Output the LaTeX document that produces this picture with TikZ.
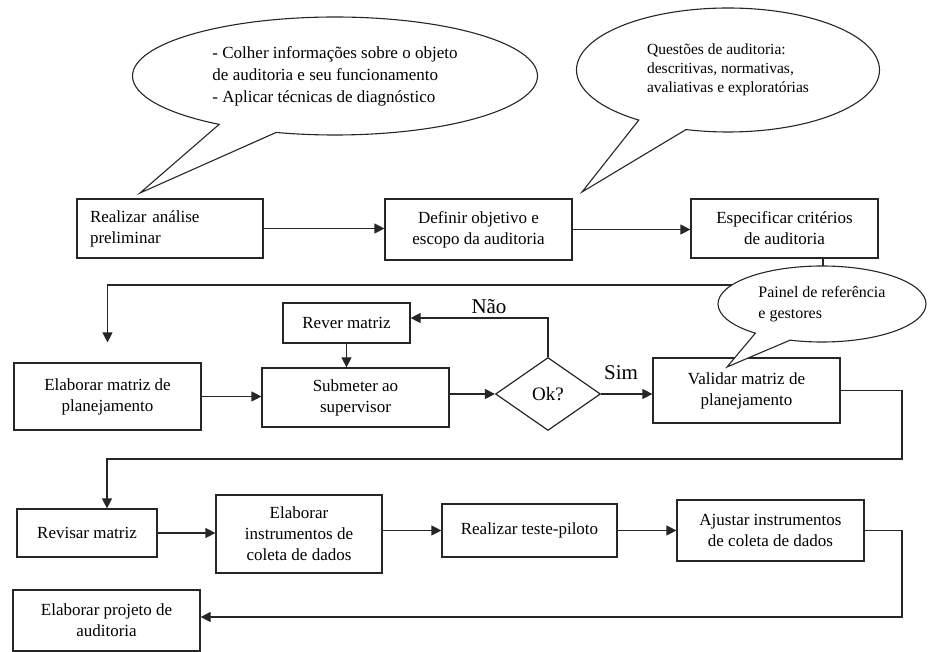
\documentclass[tikz,border=0pt]{standalone}
\usepackage{fontspec}
\setmainfont{Liberation Serif}
\usetikzlibrary{shapes.geometric,shapes.callouts,arrows.meta}
\begin{document}
\begin{tikzpicture}[x=1pt,y=-1pt,
  box/.style={draw=black!85, line width=1.2pt, fill=white, inner sep=0pt, align=center,
    font=\fontsize{17}{21}\selectfont},
  arr/.style={draw=black!85, line width=1.2pt, -{Triangle[length=10pt,width=10pt]}},
  bubble/.style={ellipse callout, draw=black!85, line width=1.1pt, fill=white, inner sep=0pt, align=left},
  lbl/.style={font=\fontsize{21}{24}\selectfont, inner sep=0pt}]
\useasboundingbox (0,0) rectangle (930,652);

% boxes
\node[box, align=left, text width=160pt, inner xsep=13pt, minimum height=59pt] (b1) at (170,228.5) {Realizar análise\\preliminar};
\node[box, minimum width=187pt, minimum height=61pt] (b2) at (478.5,229.5) {Definir objetivo e\\escopo da auditoria};
\node[box, minimum width=187pt, minimum height=59pt] (b3) at (784.5,228.5) {Especificar critérios\\de auditoria};
\node[box, minimum width=187pt, minimum height=67pt] (b4) at (107.5,396.5) {Elaborar matriz de\\planejamento};
\node[box, minimum width=127pt, minimum height=40pt] (b5) at (346.5,323) {Rever matriz};
\node[box, minimum width=187pt, minimum height=59pt] (b6) at (355.5,397.5) {Submeter ao\\supervisor};
\node[diamond, draw=black!85, line width=1.2pt, inner sep=0pt, minimum width=105pt, minimum height=73pt,
  font=\fontsize{19}{22}\selectfont] (ok) at (548,394) {Ok?};
\node[box, minimum width=187pt, minimum height=65pt] (b7) at (746.5,390.5) {Validar matriz de\\planejamento};
\node[box, minimum width=140pt, minimum height=48pt] (b8) at (87,533) {Revisar matriz};
\node[box, minimum width=166pt, minimum height=78pt] (b9) at (299,534) {Elaborar\\instrumentos de\\coleta de dados};
\node[box, minimum width=175pt, minimum height=53pt] (b10) at (529.5,530.5) {Realizar teste-piloto};
\node[box, minimum width=187pt, minimum height=61pt] (b11) at (770.5,530.5) {Ajustar instrumentos\\de coleta de dados};
\node[box, minimum width=187pt, minimum height=61pt] (b12) at (106.5,620.5) {Elaborar projeto de\\auditoria};

% junction coordinates
\coordinate (j1) at (107.5,285);
\coordinate (j2) at (902,459);
\coordinate (j3) at (902,617);

% connectors
\draw[arr] (b1.east) -- (b1.east -| b2.west);
\draw[arr] (b2.east) -- (b2.east -| b3.west);
\draw[arr, shorten >=20pt] ([xshift=38.5pt]b3.south) |- (j1) -- (b4.north);
\draw[arr] (b4.east) -- (b4.east -| b6.west);
\draw[arr] (b5.south) -- (b5.south |- b6.north);
\draw[arr] (b6.east |- ok.west) -- (ok.west);
\draw[arr] (ok.north) |- ([yshift=5pt]b5.east);
\draw[arr] (ok.east) -- (ok.east -| b7.west);
\draw[arr] (b7.east) -| (j2) -| ([xshift=20pt]b8.north);
\draw[arr] (b8.east) -- (b8.east -| b9.west);
\draw[arr] (b10.west -| b9.east) -- (b10.west);
\draw[arr] (b10.east) -- (b10.east -| b11.west);
\draw[arr] (b11.east) -| (j3) -- (b12.east |- j3);

% labels
\node[lbl] (nao) at (489,307) {Não};
\node[lbl] (sim) at (621,373) {Sim};

% callouts
\coordinate (p1) at (140,193);
\coordinate (p2) at (582,192);
\coordinate (p3) at (727,367);
\node[bubble, minimum width=405pt, minimum height=118pt, callout absolute pointer=(p1), callout pointer arc=18,
  font=\fontsize{17}{22}\selectfont] (c1) at (335,76)
  {- Colher informações sobre o objeto\\de auditoria e seu funcionamento\\- Aplicar técnicas de diagnóstico};
\node[bubble, minimum width=303pt, minimum height=124pt, callout absolute pointer=(p2), callout pointer arc=20,
  font=\fontsize{15.5}{19}\selectfont] (c2) at (728,70)
  {Questões de auditoria:\\descritivas, normativas,\\avaliativas e exploratórias};
\node[bubble, minimum width=208pt, minimum height=76pt, callout absolute pointer=(p3), callout pointer arc=22,
  font=\fontsize{16}{21}\selectfont] (c3) at (822,304)
  {Painel de referência\\e gestores};
\end{tikzpicture}
\end{document}
